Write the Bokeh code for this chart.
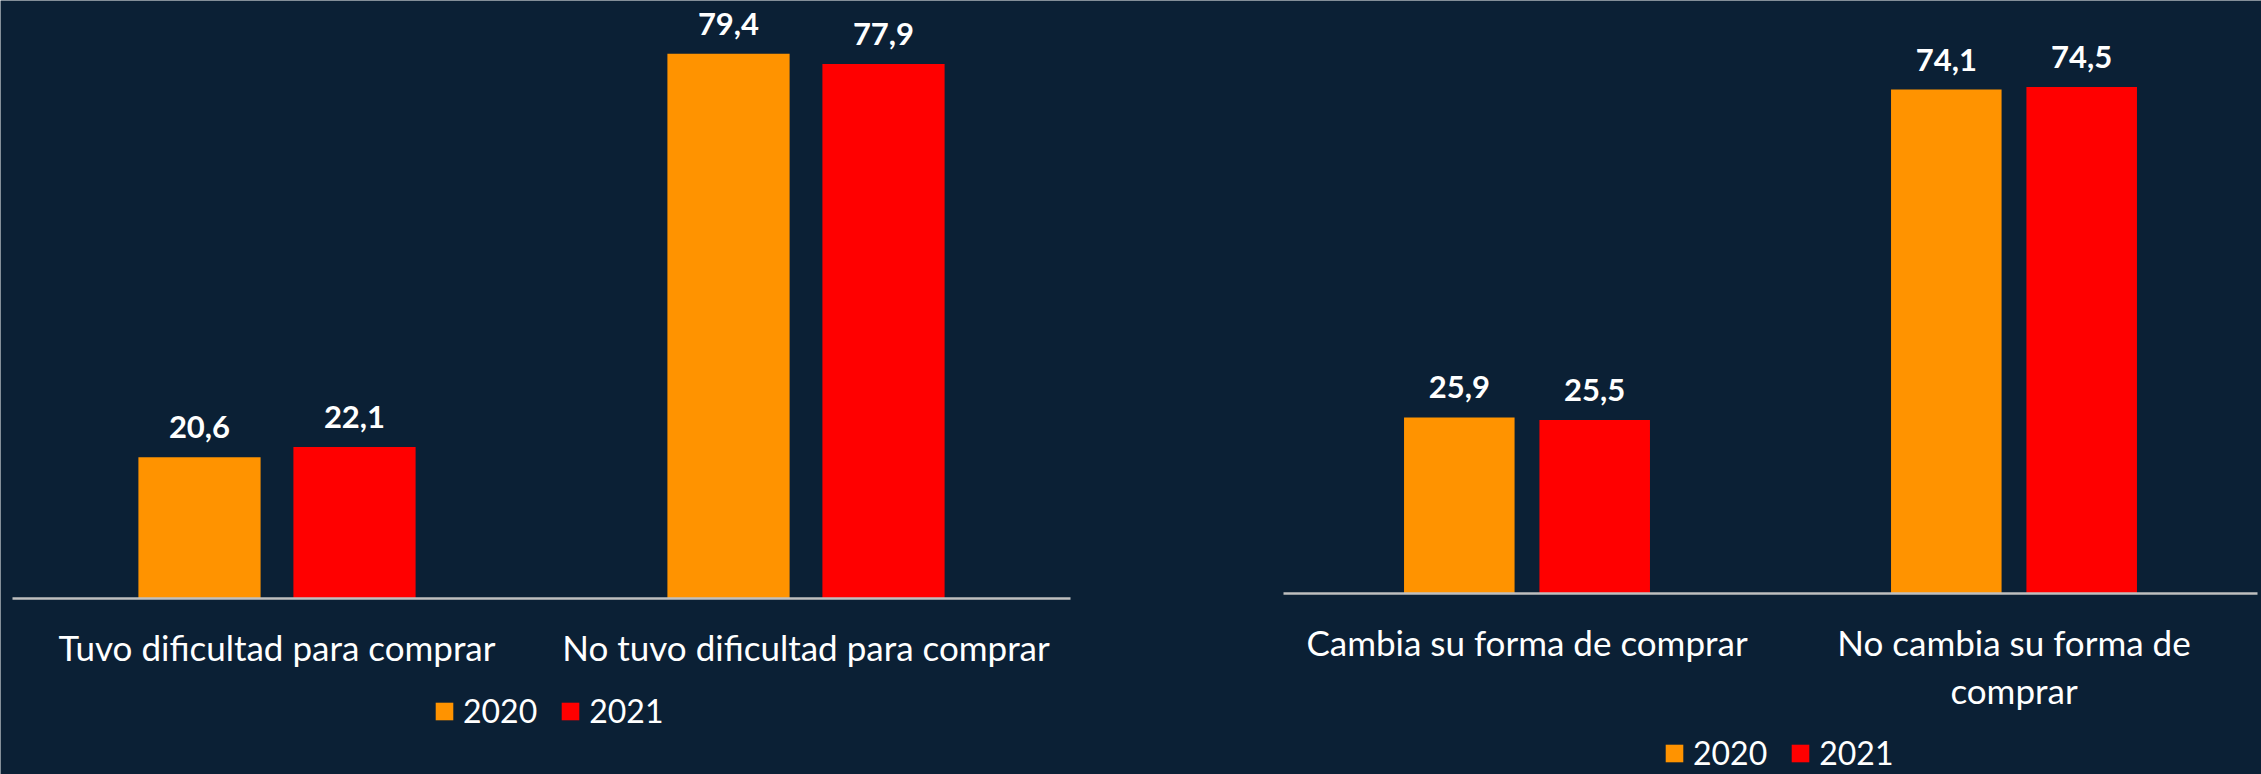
from bokeh.plotting import figure
from bokeh.models import ColumnDataSource, Legend, LegendItem, LabelSet, Range1d
from bokeh.embed import file_html
from bokeh.resources import INLINE
from bokeh.core.properties import value

years = ["2020", "2021"]

cats_left = ["Tuvo dificultad para comprar", "No tuvo dificultad para comprar"]
left_2020 = [20.6, 79.4]
left_2021 = [22.1, 77.9]
left_tick_labels = ["Tuvo dificultad para comprar", "No tuvo dificultad para comprar"]

cats_right = ["Cambia su forma de comprar", "No cambia su forma de comprar"]
right_2020 = [25.9, 74.1]
right_2021 = [25.5, 74.5]
right_tick_labels = ["Cambia su forma de comprar", "No cambia su forma de\ncomprar"]

BG = "#0B2035"
ORANGE = "#FF9300"
RED = "#FF0000"
AXIS = "#BFBFBF"
FONT = "Lato"
W, H = 2261, 774
LINE_STEP = 48


def fmt(v):
    return f"{v:.1f}".replace(".", ",")


p = figure(width=W, height=H, min_border=0,
           x_axis_location=None, y_axis_location=None,
           background_fill_color=BG, border_fill_color=BG,
           outline_line_color=None, toolbar_location=None,
           output_backend="svg")
for g in p.grid:
    g.visible = False


def add_chart(name, cats, v20, v21, ticks, origin_px, unit_px, base_px, y_px,
              bar_w, off, legend_xy):
    # screen layout -> ranges
    xr = Range1d(-origin_px / unit_px, (W - origin_px) / unit_px)
    yr = Range1d(-(H - base_px) / y_px, base_px / y_px)
    p.extra_x_ranges[name] = xr
    p.extra_y_ranges[name] = yr
    n = len(cats)
    xc = [i + 0.5 for i in range(n)]
    lines = [t.split("\n") for t in ticks]
    nlines = max(len(l) for l in lines)
    data = dict(x20=[x - off for x in xc], x21=[x + off for x in xc], xc=xc,
                v2020=v20, v2021=v21, zero=[0] * n,
                t2020=[fmt(v) for v in v20], t2021=[fmt(v) for v in v21])
    for k in range(nlines):
        data[f"tick{k}"] = [l[k] if k < len(l) else "" for l in lines]
    src = ColumnDataSource(data)
    kw = dict(x_range_name=name, y_range_name=name)
    r1 = p.vbar(x="x20", top="v2020", width=bar_w, source=src,
                fill_color=ORANGE, line_color=None, **kw)
    r2 = p.vbar(x="x21", top="v2021", width=bar_w, source=src,
                fill_color=RED, line_color=None, **kw)
    p.segment(x0=0, x1=n, y0=0, y1=0, line_color=AXIS, line_width=2.5, **kw)
    for fx, fy, ft in (("x20", "v2020", "t2020"), ("x21", "v2021", "t2021")):
        p.add_layout(LabelSet(x=fx, y=fy, text=ft, source=src, y_offset=19,
                              text_align="center", text_baseline="alphabetic",
                              text_font=value(FONT), text_font_style="bold",
                              text_font_size="31px", text_color="white", **kw))
    for k in range(nlines):
        p.add_layout(LabelSet(x="xc", y="zero", text=f"tick{k}", source=src,
                              y_offset=-27 - k * LINE_STEP, text_align="center",
                              text_baseline="top", text_font=value(FONT),
                              text_font_size="35px", text_color="white", **kw))
    legend = Legend(items=[LegendItem(label=years[0], renderers=[r1]),
                           LegendItem(label=years[1], renderers=[r2])],
                    orientation="horizontal", location=legend_xy,
                    glyph_width=22, glyph_height=22, label_standoff=8,
                    spacing=22, padding=0, margin=0,
                    border_line_color=None, background_fill_alpha=0,
                    label_text_color="white", label_text_font=FONT,
                    label_text_font_size="32px")
    p.add_layout(legend, "center")


add_chart("left", cats_left, left_2020, left_2021, left_tick_labels,
          12, 529, 598, 6.86, 0.231, 0.1465, (433, 44))
add_chart("right", cats_right, right_2020, right_2021, right_tick_labels,
          1283, 487, 593, 6.80, 0.227, 0.139, (1663, 2))

open("out.html", "w").write(file_html(p, INLINE))
